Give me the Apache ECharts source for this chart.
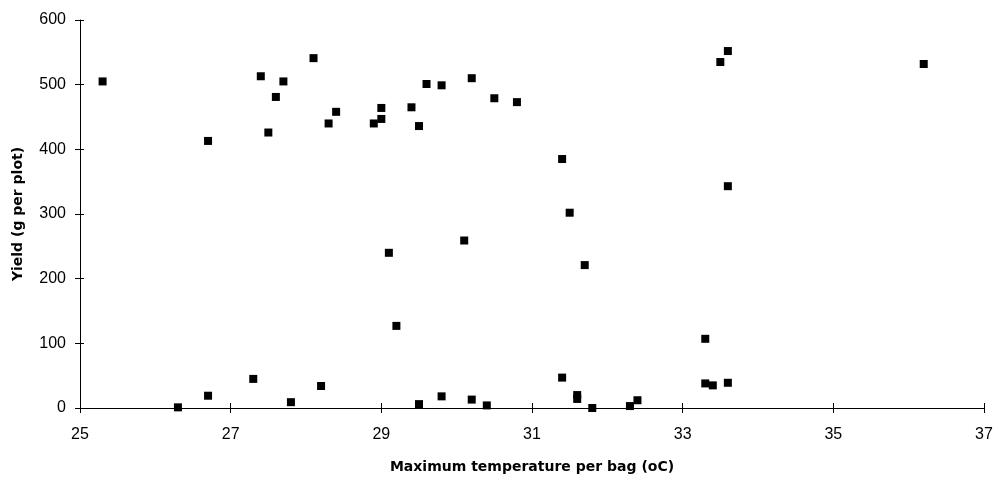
<!DOCTYPE html>
<html>
<head>
<meta charset="utf-8">
<script src="https://cdn.jsdelivr.net/npm/echarts@6/dist/echarts.min.js"></script>
<style>
  html, body { margin: 0; padding: 0; background: #fff; }
  #chart { width: 998px; height: 479px; }
</style>
</head>
<body>
<div id="chart"></div>
<script>
// maximum temperature per bag (oC)
const temps = [
  25.3, 26.7, 27.4, 27.7, 27.6, 27.5, 28.1, 28.3, 28.4,
  28.9, 29.0, 29.0, 29.4, 29.5, 29.6, 29.8, 30.2, 30.5, 30.8,
  31.4, 31.5, 29.1, 30.1, 29.2, 31.7,
  28.2, 29.5, 29.8, 30.2, 30.4, 31.4, 31.6, 31.6, 31.8, 32.3, 32.4,
  26.3, 26.7, 27.3, 27.8,
  33.6, 33.5, 36.2, 33.6, 33.3, 33.3, 33.4, 33.6
];
// yield (g per plot)
const yields = [
  505, 413, 513, 505, 481, 426, 541, 440, 458,
  440, 464, 447, 465, 436, 501, 499, 510, 479, 473,
  385, 302, 240, 259, 127, 221,
  34, 6, 18, 13, 4, 47, 20, 14, 0, 3, 12,
  1, 19, 45, 9,
  552, 535, 532, 343, 107, 38, 35, 39
];
const xTicks = [25, 27, 29, 31, 33, 35, 37];
const yTicks = [0, 100, 200, 300, 400, 500, 600];

const points = temps.map((t, i) => [t, yields[i]]);

const chart = echarts.init(document.getElementById("chart"));
const labelFont = { fontFamily: "Liberation Sans, Arial, sans-serif", fontSize: 16, color: "#000" };
const titleFont = { fontFamily: "DejaVu Sans, sans-serif", fontWeight: "bold", fontSize: 14, color: "#000" };
const line = { show: true, lineStyle: { color: "#000", width: 1 } };

chart.setOption({
  animation: false,
  backgroundColor: "#fff",
  grid: { left: 80, right: 14, top: 20, bottom: 71 },
  xAxis: [
    {
      type: "value",
      min: xTicks[0],
      max: xTicks[xTicks.length - 1],
      interval: 2,
      name: "Maximum temperature per bag (oC)",
      nameLocation: "middle",
      nameGap: 52,
      nameTextStyle: titleFont,
      axisLine: line,
      axisTick: { show: true, length: 5, lineStyle: { color: "#000" } },
      axisLabel: { ...labelFont, margin: 19 },
      splitLine: { show: false }
    },
    {
      type: "value",
      position: "bottom",
      min: xTicks[0],
      max: xTicks[xTicks.length - 1],
      interval: 2,
      axisLine: { show: false },
      axisTick: { show: true, inside: true, length: 5, lineStyle: { color: "#000" } },
      axisLabel: { show: false },
      splitLine: { show: false }
    }
  ],
  yAxis: [
    {
      type: "value",
      min: yTicks[0],
      max: yTicks[yTicks.length - 1],
      interval: 100,
      name: "Yield (g per plot)",
      nameLocation: "middle",
      nameGap: 55,
      nameTextStyle: titleFont,
      axisLine: line,
      axisTick: { show: true, length: 5, lineStyle: { color: "#000" } },
      axisLabel: { ...labelFont, margin: 14 },
      splitLine: { show: false }
    },
    {
      type: "value",
      position: "left",
      min: yTicks[0],
      max: yTicks[yTicks.length - 1],
      interval: 100,
      axisLine: { show: false },
      axisTick: { show: true, inside: true, length: 4, lineStyle: { color: "#000" } },
      axisLabel: { show: false },
      splitLine: { show: false }
    }
  ],
  series: [
    {
      type: "scatter",
      symbol: "rect",
      symbolSize: 8,
      itemStyle: { color: "#000", opacity: 1 },
      data: points
    }
  ]
});
</script>
</body>
</html>
